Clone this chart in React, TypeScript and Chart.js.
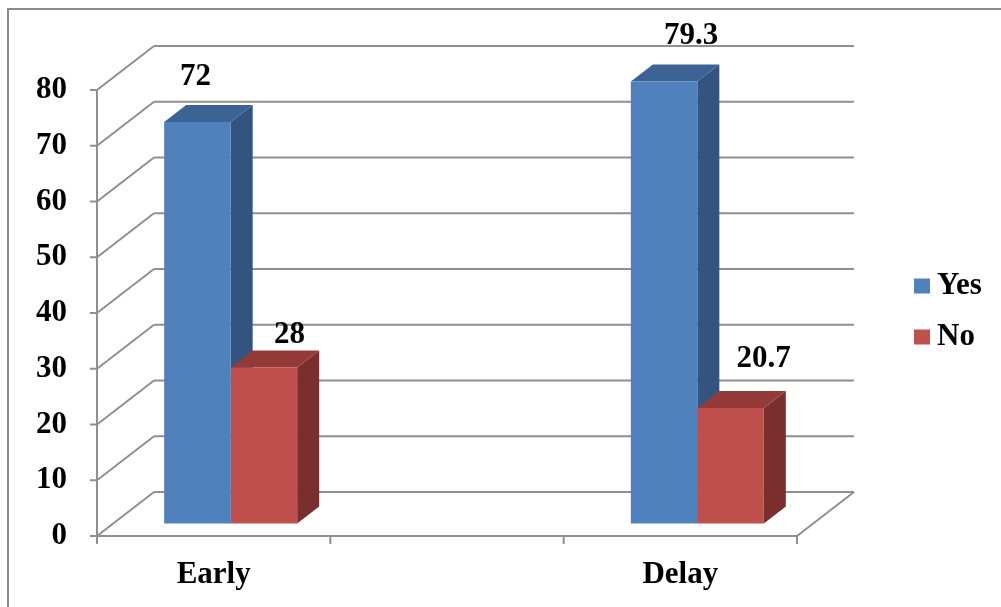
import React, { useEffect, useRef } from "react";
import { Chart, registerables } from "chart.js";

Chart.register(...registerables);

const categories = ["Early", "", "Delay"];
const seriesNames = ["Yes", "No"];
const yesValues: (number | null)[] = [72, null, 79.3];
const noValues: (number | null)[] = [28, null, 20.7];
const yTicks = [0, 10, 20, 30, 40, 50, 60, 70, 80];

const SERIF = '"Liberation Serif", "Times New Roman", serif';
const frontColors = ["#4F81BD", "#C0504D"];
const sideColors = ["#33547E", "#7A2F2E"];
const topColors = ["#3B6495", "#943B39"];

const geo = {
  wallDX: 57,
  wallDY: -44,
  barDX: 17,
  barDY: -12.5,
  sideDX: 22,
  sideDY: -17,
};

// label offsets relative to the front-top centre of each bar: [dataset][category]
const labelOffsets: ([number, number] | null)[][] = [
  [[-2, -45], null, [27, -45]],
  [[25.5, -32], null, [33, -49]],
];

function line(ctx: CanvasRenderingContext2D, x1: number, y1: number, x2: number, y2: number) {
  ctx.beginPath();
  ctx.moveTo(x1, y1);
  ctx.lineTo(x2, y2);
  ctx.stroke();
}

function poly(ctx: CanvasRenderingContext2D, pts: number[][], fill: string) {
  ctx.beginPath();
  ctx.moveTo(pts[0][0], pts[0][1]);
  for (let i = 1; i < pts.length; i++) ctx.lineTo(pts[i][0], pts[i][1]);
  ctx.closePath();
  ctx.fillStyle = fill;
  ctx.fill();
}

const threeD = {
  id: "threeD",
  beforeDatasetsDraw(chart: any) {
    const { ctx, chartArea: a, scales } = chart;
    const x = scales.x;
    const y = scales.y;
    ctx.save();
    // outer frame
    ctx.strokeStyle = "#8a8a8a";
    ctx.lineWidth = 2;
    ctx.strokeRect(8, 9, 1100, 700);

    ctx.strokeStyle = "#8f8f8f";
    ctx.lineWidth = 2;
    yTicks.forEach((v) => {
      const py = y.getPixelForValue(v);
      line(ctx, a.left, py, a.left + geo.wallDX, py + geo.wallDY);
      line(ctx, a.left + geo.wallDX, py + geo.wallDY, a.right + geo.wallDX, py + geo.wallDY);
      line(ctx, a.left - 7, py, a.left, py);
    });
    const py0 = y.getPixelForValue(0);
    const pyTop = y.getPixelForValue(80);
    line(ctx, a.left, pyTop - 1, a.left, py0 + 1);
    line(ctx, a.left, py0, a.right, py0);
    line(ctx, a.right, py0, a.right + geo.wallDX, py0 + geo.wallDY);
    for (let i = 0; i <= categories.length; i++) {
      const px = x.getPixelForValue(i - 0.5);
      line(ctx, px, py0, px, py0 + 8);
    }
    ctx.restore();

    ctx.save();
    ctx.translate(geo.barDX, geo.barDY);
    // side and top faces, drawn before the front faces
    chart.data.datasets.forEach((ds: any, d: number) => {
      const meta = chart.getDatasetMeta(d);
      meta.data.forEach((el: any, i: number) => {
        if (ds.data[i] == null) return;
        const p = el.getProps(["x", "y", "base", "width"], true);
        const left = p.x - p.width / 2;
        const right = p.x + p.width / 2;
        const top = p.y;
        const bottom = p.base;
        poly(ctx, [
          [right, top],
          [right + geo.sideDX, top + geo.sideDY],
          [right + geo.sideDX, bottom + geo.sideDY],
          [right, bottom],
        ], sideColors[d]);
        poly(ctx, [
          [left, top],
          [right, top],
          [right + geo.sideDX, top + geo.sideDY],
          [left + geo.sideDX, top + geo.sideDY],
        ], topColors[d]);
      });
    });
  },
  afterDatasetsDraw(chart: any) {
    const { ctx } = chart;
    ctx.restore();
    ctx.save();
    ctx.fillStyle = "#000";
    ctx.font = "bold 31px " + SERIF;
    ctx.textAlign = "center";
    ctx.textBaseline = "middle";
    chart.data.datasets.forEach((ds: any, d: number) => {
      const meta = chart.getDatasetMeta(d);
      meta.data.forEach((el: any, i: number) => {
        const v = ds.data[i];
        if (v == null) return;
        const off = labelOffsets[d][i] || [0, -40];
        const p = el.getProps(["x", "y"], true);
        ctx.fillText(String(v), p.x + geo.barDX + off[0], p.y + geo.barDY + off[1]);
      });
    });
    ctx.restore();
  },
  afterDraw(chart: any) {
    const { ctx } = chart;
    ctx.save();
    ctx.font = "bold 31px " + SERIF;
    ctx.textAlign = "left";
    ctx.textBaseline = "middle";
    chart.data.datasets.forEach((ds: any, d: number) => {
      const cy = 286 + d * 51;
      ctx.fillStyle = frontColors[d];
      ctx.fillRect(914, cy - 7.5, 16, 15);
      ctx.fillStyle = "#000";
      ctx.fillText(ds.label, 937, cy);
    });
    ctx.restore();
  },
};

export default function App() {
  const ref = useRef<HTMLCanvasElement | null>(null);
  useEffect(() => {
    if (!ref.current) return;
    const chart = new Chart(ref.current, {
      type: "bar",
      data: {
        labels: categories,
        datasets: [
          { label: seriesNames[0], data: yesValues, backgroundColor: frontColors[0], borderWidth: 0, clip: false } as any,
          { label: seriesNames[1], data: noValues, backgroundColor: frontColors[1], borderWidth: 0, clip: false } as any,
        ],
      },
      options: {
        animation: false,
        responsive: false,
        maintainAspectRatio: false,
        layout: { padding: { left: 0, right: 204, top: 90, bottom: 0 } },
        datasets: { bar: { categoryPercentage: 0.57, barPercentage: 1 } },
        scales: {
          x: {
            grid: { display: false },
            border: { display: false },
            ticks: {
              color: "#000",
              font: { family: SERIF, size: 31, weight: "bold" },
              padding: 12,
              maxRotation: 0,
              autoSkip: false,
            },
            afterFit: (s: any) => {
              s.height = 71;
            },
          },
          y: {
            min: 0,
            max: 80,
            grid: { display: false },
            border: { display: false },
            ticks: {
              stepSize: 10,
              color: "#000",
              font: { family: SERIF, size: 31, weight: "bold" },
              padding: 22,
            },
            afterFit: (s: any) => {
              s.width = 97;
            },
          },
        },
        plugins: {
          legend: { display: false },
          tooltip: { enabled: false },
        },
      } as any,
      plugins: [threeD as any],
    });
    return () => chart.destroy();
  }, []);
  return (
    <div style={{ position: "fixed", left: 0, top: 0, width: 1001, height: 607, background: "#fff" }}>
      <canvas ref={ref} width={1001} height={607} style={{ display: "block" }} />
    </div>
  );
}
